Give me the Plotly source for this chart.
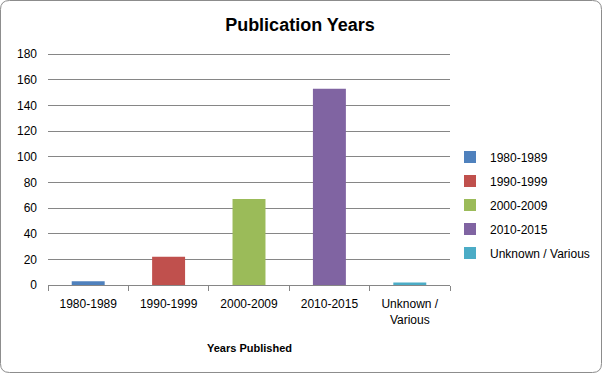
import plotly.graph_objects as go

categories = ["1980-1989", "1990-1999", "2000-2009", "2010-2015", "Unknown / Various"]
tick_text = ["1980-1989", "1990-1999", "2000-2009", "2010-2015", "Unknown /<br>Various"]
values = [3, 22, 67, 153, 2]
colors = ["#4F81BD", "#C0504D", "#9BBB59", "#8064A2", "#4BACC6"]
y_ticks = [0, 20, 40, 60, 80, 100, 120, 140, 160, 180]

W, H = 603, 374
ML, MR, MT, MB = 48, 153, 51, 89
PW, PH = W - ML - MR, H - MT - MB
FONT = "Liberation Sans, Arial, sans-serif"
GRAY = "#868686"
YMAX = 180 + 3 * 180 / 231

fig = go.Figure()
for cat, val, col in zip(categories, values, colors):
    fig.add_trace(go.Bar(x=[cat], y=[val], name=cat, marker_color=col,
                         marker_line_width=0, width=0.41, legendgroup=cat))

common = dict(type="category", categoryorder="array", categoryarray=categories,
              range=[-0.5, 4.5], showgrid=False, zeroline=False)
fig.update_layout(
    xaxis=dict(**common, tickvals=categories, ticktext=tick_text, tickson="boundaries",
               ticks="outside", ticklen=5, tickcolor=GRAY, showline=True, linecolor=GRAY,
               linewidth=1, tickfont=dict(size=12, color="#000"), ticklabelstandoff=8),
    xaxis2=dict(**common, overlaying="x", anchor="y", tickvals=categories, tickson="labels",
                ticks="inside", ticklen=4, tickcolor=GRAY, showticklabels=False,
                showline=False),
    yaxis=dict(range=[0, YMAX], tickmode="array", tickvals=y_ticks, showgrid=True,
               gridcolor=GRAY, gridwidth=1, zeroline=False, showline=False, ticks="",
               tickfont=dict(size=12, color="#000"), ticklabelstandoff=10),
    barmode="overlay",
    width=W, height=H,
    margin=dict(l=ML, r=MR, t=MT, b=MB, pad=0, autoexpand=False),
    paper_bgcolor="white", plot_bgcolor="white",
    font=dict(family=FONT, color="#000"),
    title=dict(text="<b>Publication Years</b>", x=300 / W, xanchor="center",
               y=1 - 25 / H, yanchor="middle", font=dict(size=18, color="#000")),
    showlegend=True,
    legend=dict(x=(450 - ML) / PW, xanchor="left", y=(H - MB - 205) / PH, yanchor="middle",
                font=dict(size=12, color="#000"), tracegroupgap=5, itemwidth=30,
                bgcolor="rgba(0,0,0,0)"),
)

fig.add_annotation(text="<b>Years Published</b>", xref="paper", yref="paper",
                   x=0.5, y=(H - MB - 348) / PH, yanchor="middle", showarrow=False,
                   font=dict(size=11, color="#000"))


def px_x(p):
    return (p - ML) / PW


def px_y(p):
    return (H - MB - p) / PH


r = 9
x0, x1, y0, y1 = 0.5, W - 1.5, 0.5, H - 1.5
pts = [
    ("M", x0 + r, y0), ("L", x1 - r, y0), ("Q", x1, y0, x1, y0 + r),
    ("L", x1, y1 - r), ("Q", x1, y1, x1 - r, y1), ("L", x0 + r, y1),
    ("Q", x0, y1, x0, y1 - r), ("L", x0, y0 + r), ("Q", x0, y0, x0 + r, y0),
]
path = ""
for p in pts:
    coords = p[1:]
    s = [f"{px_x(coords[i]):.5f},{px_y(coords[i + 1]):.5f}" for i in range(0, len(coords), 2)]
    path += p[0] + " ".join(s) + " "
path += "Z"
fig.add_shape(type="path", path=path, xref="paper", yref="paper",
              line=dict(color="#8C8C8C", width=1), fillcolor="rgba(0,0,0,0)", layer="above")

fig.write_html("out.html", config={"displayModeBar": False},
               post_script="document.body.style.margin='0';document.body.style.padding='0';"
                           "document.body.style.overflow='hidden';")
